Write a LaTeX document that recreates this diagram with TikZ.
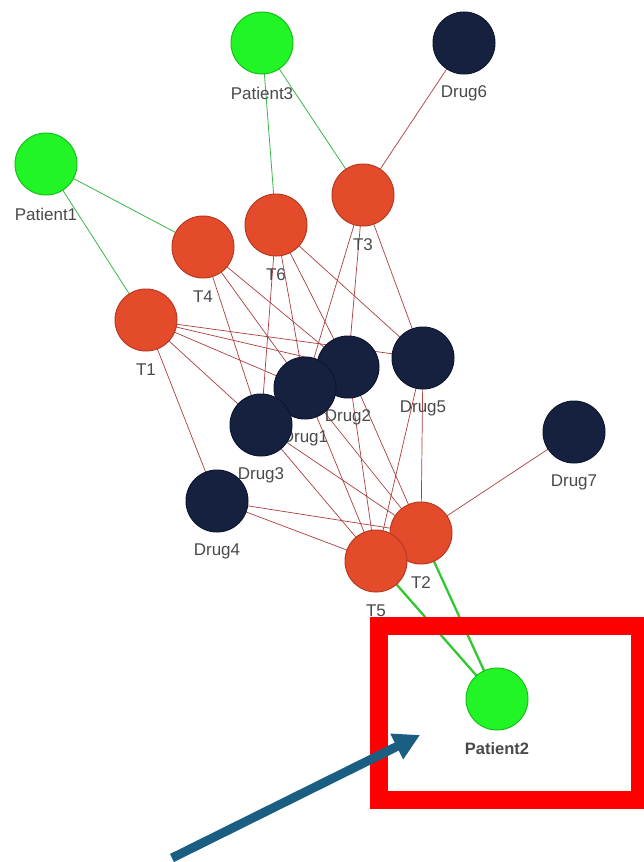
\documentclass[tikz,border=0pt]{standalone}
\usepackage{fontspec}
\setmainfont{Liberation Sans}
\usetikzlibrary{arrows.meta}
\pgfdeclarelayer{background}
\pgfsetlayers{background,main}
\definecolor{tfill}{HTML}{E34B2B}
\definecolor{tline}{HTML}{B83A22}
\definecolor{dfill}{HTML}{15213F}
\definecolor{dline}{HTML}{0E1730}
\definecolor{pfill}{HTML}{22F525}
\definecolor{pline}{HTML}{19C01C}
\definecolor{redge}{RGB}{172,62,62}
\definecolor{gedge}{RGB}{55,185,70}
\definecolor{gedgeb}{RGB}{50,200,50}
\definecolor{lblcol}{HTML}{4A4A4A}
\definecolor{arrowcol}{HTML}{1A5F82}
\newcommand\gnode[5]{%
  \node[#1] (#2) at (#3) {};
  \node[#4] (#2t) at ([yshift=-50pt]#2.center) {#5};}
\begin{document}
\begin{tikzpicture}[x=1pt,y=-1pt,
  lbl/.style={text=lblcol,font=\fontsize{17}{18}\selectfont,inner sep=1pt},
  lblb/.style={text=lblcol,font=\fontsize{16.5}{18}\selectfont\bfseries,inner sep=1pt},
  nodebase/.style={circle,minimum size=62pt,inner sep=0pt,line width=1pt},
  tnode/.style={nodebase,fill=tfill,draw=tline},
  dnode/.style={nodebase,fill=dfill,draw=dline},
  pnode/.style={nodebase,fill=pfill,draw=pline},
  redline/.style={draw=redge,line width=0.7pt},
  greenline/.style={draw=gedge,line width=0.8pt},
  greenthick/.style={draw=gedgeb,line width=2.3pt},
  bigarrow/.style={draw=arrowcol,line width=9pt,-{Triangle[length=26pt,width=27pt]}},
  frame/.style={draw=red,line width=18pt}]
\useasboundingbox (0,0) rectangle (644,862);

\gnode{pnode}{P3}{262,43}{lbl}{Patient3}
\gnode{dnode}{D6}{464,43}{lbl}{Drug6}
\gnode{pnode}{P1}{46,164}{lbl}{Patient1}
\gnode{tnode}{T3}{363,195}{lbl}{T3}
\gnode{tnode}{T6}{276,225}{lbl}{T6}
\gnode{tnode}{T4}{203,247}{lbl}{T4}
\gnode{tnode}{T1}{146,320}{lbl}{T1}
\gnode{dnode}{D5}{423,358}{lbl}{Drug5}
\gnode{dnode}{D2}{348,367}{lbl}{Drug2}
\gnode{dnode}{D1}{305,388}{lbl}{Drug1}
\gnode{dnode}{D3}{261,425}{lbl}{Drug3}
\gnode{dnode}{D7}{574,432}{lbl}{Drug7}
\gnode{dnode}{D4}{217,501}{lbl}{Drug4}
\gnode{tnode}{T2}{421,533}{lbl}{T2}
\gnode{tnode}{T5}{376,561}{lbl}{T5}
\gnode{pnode}{P2}{497,699}{lblb}{Patient2}

\begin{pgfonlayer}{background}
  \fill[white] (0,0) rectangle (644,862);
  % patient links
  \draw[greenline] (P3.center) -- (T6.center);
  \draw[greenline] (P3.center) -- (T3.center);
  \draw[greenline] (P1.center) -- (T4.center);
  \draw[greenline] (P1.center) -- (T1.center);
  \draw[greenthick] (T5.center) -- (P2.center);
  \draw[greenthick] (T2.center) -- (P2.center);
  % drug links
  \foreach \a/\b in {D6/T3,D7/T2,
      T3/D1,T3/D2,T3/D5,
      T6/D1,T6/D2,T6/D3,T6/D5,
      T4/D1,T4/D2,T4/D3,
      T1/D1,T1/D2,T1/D3,T1/D4,T1/D5,
      D1/T2,D1/T5,D2/T2,D2/T5,D3/T2,D3/T5,D4/T2,D4/T5,D5/T2,D5/T5}
    \draw[redline] (\a.center) -- (\b.center);
\end{pgfonlayer}

\draw[frame] (379,626) rectangle (640,799.5);
\coordinate (atail) at (172,858);
\coordinate (atip) at (420,735);
\draw[bigarrow] (atail) -- (atip);
\end{tikzpicture}
\end{document}
